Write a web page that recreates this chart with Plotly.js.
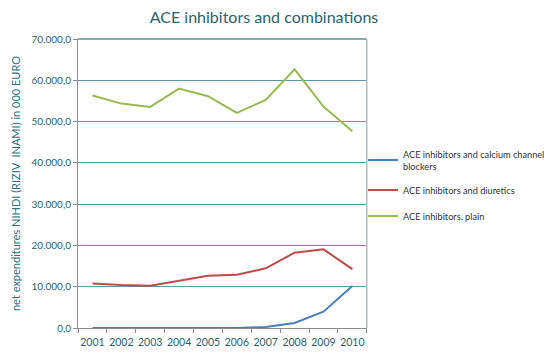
<!DOCTYPE html>
<html>
<head>
<meta charset="utf-8">
<script src="https://cdn.plot.ly/plotly-3.0.1.min.js"></script>
<style>html,body{margin:0;padding:0;background:#fff;}#chart{width:550px;height:352px;}</style>
</head>
<body>
<div id="chart"></div>
<script>
var years = ['2001','2002','2003','2004','2005','2006','2007','2008','2009','2010'];
var calciumBlockers = [0, 0, 0, 0, 0, 0, 240, 1200, 3950, 10150];
var diuretics = [10800, 10400, 10250, 11450, 12650, 12900, 14450, 18250, 19050, 14250];
var plain = [56300, 54350, 53550, 58000, 56150, 52100, 55250, 62650, 53650, 47650];
var seriesNames = ['ACE inhibitors and calcium channel<br>blockers', 'ACE inhibitors and diuretics', 'ACE inhibitors, plain'];
var yTickVals = [0, 10000, 20000, 30000, 40000, 50000, 60000, 70000];
var yTickText = ['0,0', '10.000,0', '20.000,0', '30.000,0', '40.000,0', '50.000,0', '60.000,0', '70.000,0'];

var colors = ['#4a7ebb', '#be4b48', '#98b954'];
var data = [calciumBlockers, diuretics, plain].map(function(v, i){
  return {x: years, y: v, type: 'scatter', mode: 'lines', name: seriesNames[i],
          legendgroup: 'g' + i, line: {color: colors[i], width: 2}};
});

var layout = {
  width: 550, height: 352,
  margin: {l: 78, r: 0, t: 39, b: 24},
  paper_bgcolor: '#fff', plot_bgcolor: '#fff',
  font: {family: 'Lato, "Open Sans", sans-serif', color: '#2f5f6e'},
  title: {text: 'ACE inhibitors and combinations', x: 0.48, xanchor: 'center', y: 0.95, yanchor: 'middle',
          font: {size: 16, color: '#2d6270', family: 'Lato, "Open Sans", sans-serif'}},
  xaxis: {domain: [0, 290/472], type: 'category', range: [-0.5, 9.5], tickson: 'boundaries', ticks: 'outside', ticklen: 4,
          tickangle: 0, ticklabelstandoff: 4, tickcolor: '#8c8c8c', showline: true, linecolor: '#8c8c8c', linewidth: 1, showgrid: false,
          tickfont: {size: 10.5, color: '#2f5f6e'}, fixedrange: true},
  yaxis: {range: [0, 70000], tickvals: yTickVals, ticktext: yTickText, ticks: 'outside', ticklen: 4,
          tickcolor: '#8c8c8c', showline: true, linecolor: '#8c8c8c', linewidth: 1,
          showgrid: true, gridcolor: '#5f98a6', gridwidth: 1, zeroline: false,
          tickfont: {size: 10, color: '#2f5f6e'},
          title: {text: 'net expenditures NIHDI (RIZIV  INAMI) in 000 EURO', standoff: 8,
                  font: {size: 11, color: '#2f6f80'}}},
  legend: {x: 0.607, y: 0.645, xanchor: 'left', yanchor: 'top', font: {size: 9.2, color: '#333'},
           bgcolor: 'rgba(0,0,0,0)', itemwidth: 30, tracegroupgap: 7},
  shapes: [
    {type: 'line', xref: 'x domain', yref: 'y domain', x0: 0, x1: 1, y0: 1, y1: 1, line: {color: '#5b8e99', width: 1.5}},
    {type: 'line', xref: 'x domain', yref: 'y domain', x0: 1, x1: 1, y0: 0, y1: 1, line: {color: '#a9c0c7', width: 1.5}}
  ]
};
Plotly.newPlot('chart', data, layout, {displayModeBar: false, staticPlot: true});
</script>
</body>
</html>
